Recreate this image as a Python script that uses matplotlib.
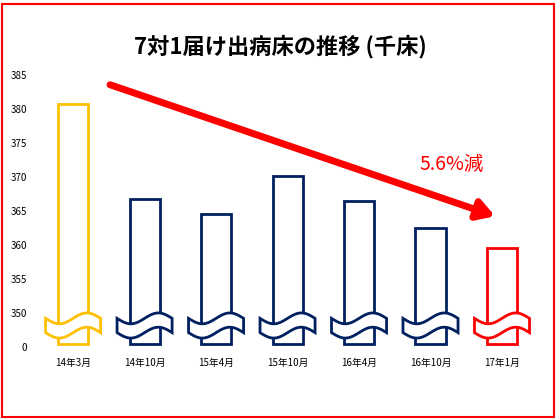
import numpy as np
import matplotlib
matplotlib.use("Agg")
import matplotlib.pyplot as plt
from matplotlib.patches import Rectangle, Polygon

plt.rcParams['font.family'] = ['Noto Sans CJK JP', 'DejaVu Sans']

labels = ["14年3月", "14年10月", "15年4月", "15年10月", "16年4月", "16年10月", "17年1月"]
values = [380.8, 366.7, 364.5, 370.1, 366.4, 362.5, 359.6]
colors = ["#FFC000", "#002060", "#002060", "#002060", "#002060", "#002060", "#FF0000"]
yticks = [345, 350, 355, 360, 365, 370, 375, 380, 385]
ytick_labels = ["0", "350", "355", "360", "365", "370", "375", "380", "385"]

fig = plt.figure(figsize=(5.6, 4.2), dpi=100)
fig.patches.append(Rectangle((0.004, 0.006), 0.985, 0.985, transform=fig.transFigure,
                             fill=False, edgecolor="#FF0000", linewidth=1.5))
ax = fig.add_axes([0.068, 0.174, 0.905, 0.662])
ax.set_xlim(-0.49, 6.6)
ax.set_ylim(345, 385.9)

base = 345.5
w = 0.42
for i, (v, c) in enumerate(zip(values, colors)):
    ax.add_patch(Rectangle((i - w / 2, base), w, v - base, facecolor="white",
                           edgecolor=c, linewidth=2, zorder=2))
    # symbole de coupure
    xs = np.linspace(i - 0.385, i + 0.385, 40)
    top = 349.2 + 0.8 * np.sin((xs - i) / 0.385 * np.pi)
    bot = top - 2.1
    pts = np.vstack([np.column_stack([xs, top]), np.column_stack([xs[::-1], bot[::-1]])])
    ax.add_patch(Polygon(pts, closed=True, facecolor="white", edgecolor=c,
                         linewidth=2, zorder=3))

ax.annotate("", xy=(5.94, 364.1), xytext=(0.48, 383.7),
            arrowprops=dict(arrowstyle="-|>,head_length=1.0,head_width=0.6",
                            color="#FF0000", lw=5), zorder=4)
ax.text(5.3, 371.8, "5.6%減", color="#FF0000", fontsize=14, ha="center", va="center")

ax.set_xticks(range(len(labels)))
ax.set_xticklabels(labels, fontsize=7)
ax.set_yticks(yticks)
ax.set_yticklabels(ytick_labels, fontsize=7)
ax.tick_params(length=0, pad=8)
for s in ax.spines.values():
    s.set_visible(False)

fig.text(0.5, 0.888, "7対1届け出病床の推移 (千床)", ha="center", va="center",
         fontsize=16, fontweight="bold")

fig.savefig("out.png", dpi=100)
